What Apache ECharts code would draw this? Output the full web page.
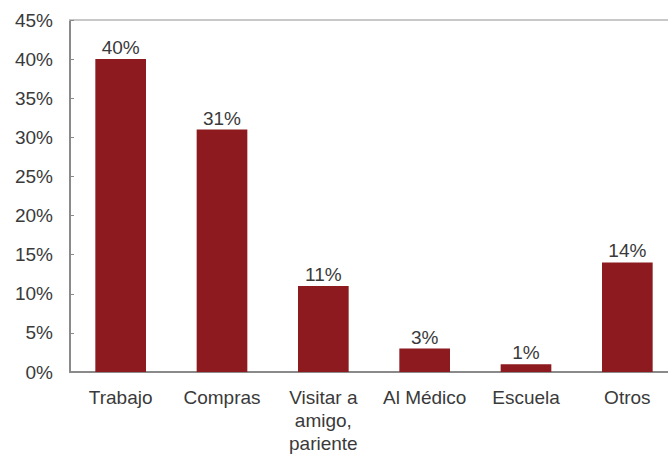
<!DOCTYPE html>
<html>
<head>
<meta charset="utf-8">
<script src="https://cdn.jsdelivr.net/npm/echarts@6/dist/echarts.min.js"></script>
<style>
  html, body { margin: 0; padding: 0; background: #fff; overflow: hidden; }
  #chart { width: 678px; height: 461px; }
</style>
</head>
<body>
<div id="chart"></div>
<script>
var categories = ['Trabajo', 'Compras', 'Visitar a\namigo,\npariente', 'Al Médico', 'Escuela', 'Otros'];
var values = [40, 31, 11, 3, 1, 14];
var yMax = 45;
var yStep = 5;

var barColor = '#8c1a1e';
var ink = '#3a3a3a';
var font = 'Liberation Sans';

// the reference plot runs a little past the right edge, so the chart is wider than the window
var chart = echarts.init(document.getElementById('chart'), null, { renderer: 'svg' });
chart.setOption({
  animation: false,
  grid: { left: 70, right: 0, top: 20, bottom: 89 },
  xAxis: [
    {
      type: 'category',
      data: categories,
      axisLine: { lineStyle: { color: '#8a8a8a', width: 2 } },
      axisTick: { show: false },
      axisLabel: { color: ink, fontSize: 19, fontFamily: font, lineHeight: 23, margin: 14, interval: 0 }
    },
    {
      type: 'category',
      position: 'top',
      data: categories,
      axisLine: { lineStyle: { color: '#c8c8c8', width: 2 } },
      axisTick: { show: false },
      axisLabel: { show: false }
    }
  ],
  yAxis: {
    type: 'value',
    min: 0,
    max: yMax,
    interval: yStep,
    axisLine: { show: true, lineStyle: { color: '#8a8a8a', width: 2 } },
    axisTick: { show: true, inside: true, length: 4, lineStyle: { color: '#8a8a8a' } },
    splitLine: { show: false },
    axisLabel: { color: ink, fontSize: 19, fontFamily: font, margin: 17, formatter: '{value}%' }
  },
  series: [{
    type: 'bar',
    data: values,
    barWidth: '50%',
    itemStyle: { color: barColor },
    label: { show: true, position: 'top', distance: 2, color: ink, fontSize: 19, fontFamily: font, formatter: '{c}%' }
  }]
});
</script>
</body>
</html>
